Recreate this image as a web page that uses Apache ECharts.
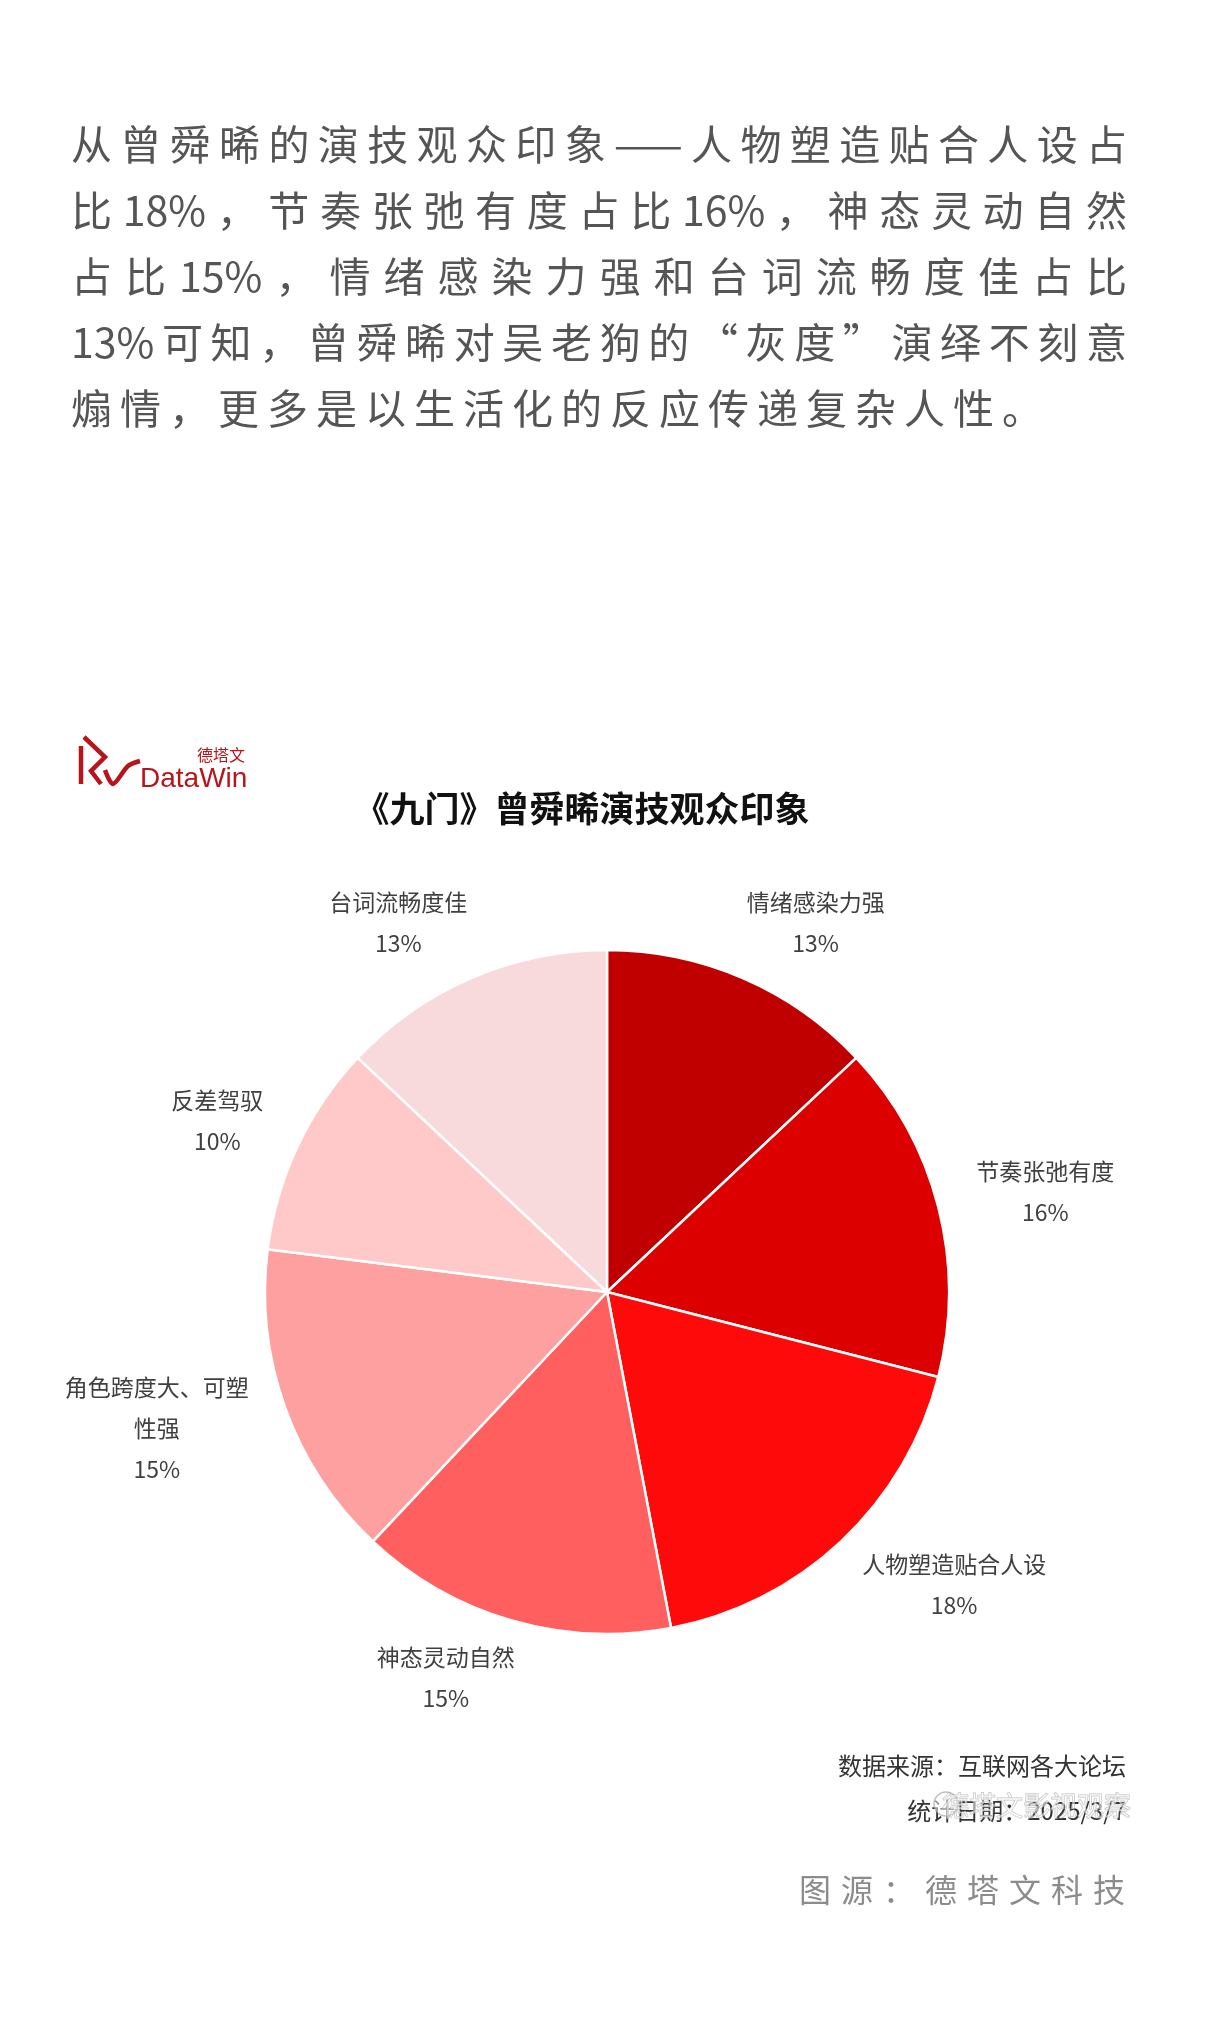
<!DOCTYPE html>
<html>
<head>
<meta charset="utf-8">
<script src="https://cdn.jsdelivr.net/npm/echarts@6/dist/echarts.min.js"></script>
<style>
html, body { margin: 0; padding: 0; background: #fff; }
#page { position: relative; width: 1206px; height: 2025px; overflow: hidden; }
#main { position: absolute; left: 0; top: 0; width: 1206px; height: 2025px; }
#intro { position: absolute; left: 71px; top: 109px; width: 1056px;
	font-family: "Noto Sans CJK SC"; font-size: 41px; line-height: 66px; color: #555; }
#intro div { white-space: nowrap; text-align: justify; text-align-last: justify; }
#intro div.last { text-align-last: left; letter-spacing: 8px; }
#credit { position: absolute; right: 71px; top: 1864px; font-family: "Noto Sans CJK SC";
	font-size: 32px; line-height: 48px; color: #8c8c8c; letter-spacing: 10px; }
</style>
</head>
<body>
<div id="page">
	<div id="main"></div>
	<div id="intro">
		<div>从曾舜晞的演技观众印象——人物塑造贴合人设占</div>
		<div>比18%，节奏张弛有度占比16%，神态灵动自然</div>
		<div>占比15%，情绪感染力强和台词流畅度佳占比</div>
		<div>13%可知，曾舜晞对吴老狗的“灰度”演绎不刻意</div>
		<div class="last">煽情，更多是以生活化的反应传递复杂人性。</div>
	</div>
	<div id="credit">图源：德塔文科技</div>
</div>
<script>
// 数据
var categories = ['情绪感染力强', '节奏张弛有度', '人物塑造贴合人设', '神态灵动自然', '角色跨度大、可塑性强', '反差驾驭', '台词流畅度佳'];
var shares = [13, 16, 18, 15, 15, 10, 13];
var sliceColors = ['#C00000', '#DC0000', '#FF0A0A', '#FF5F5F', '#FFA0A0', '#FFC9C9', '#F8DADD'];

var cjk = '"Noto Sans CJK SC", sans-serif';
var pieCenter = [607, 1292];
var pieRadius = 342;

var pieData = categories.map(function(name, i) {
	return { name: name, value: shares[i] };
});

// 名称超过8个字换行, 每行居中
function labelText(p) {
	var n = p.name;
	var lines = n.length > 8 ? [n.slice(0, 8), n.slice(8)] : [n];
	lines.push(p.value + '%');
	return lines.map(function(s) { return '{a|' + s + '}'; }).join('\n');
}

var myChart = echarts.init(document.getElementById('main'));
var option = {
	animation: false,
	backgroundColor: 'transparent',
	color: sliceColors,
	graphic: [
		// logo
		{ type: 'polyline', shape: { points: [[81, 746], [81, 784]] },
			style: { stroke: '#B8141C', lineWidth: 4.5, fill: null } },
		{ type: 'polyline', shape: { points: [[84, 737], [105, 757], [91, 771], [101, 784]] },
			style: { stroke: '#B8141C', lineWidth: 4.5, fill: null } },
		{ type: 'polyline', shape: { points: [[105, 770], [113, 784], [128, 766], [140, 761]], smooth: 0.3 },
			style: { stroke: '#B8141C', lineWidth: 4.5, fill: null } },
		{ type: 'text', x: 221, y: 755,
			style: { text: '德塔文', fontSize: 16, fontFamily: cjk, fill: '#B8141C', align: 'center', verticalAlign: 'middle' } },
		{ type: 'text', x: 140, y: 779,
			style: { text: 'DataWin', fontSize: 28, fontFamily: 'Liberation Sans', fill: '#B8141C', align: 'left', verticalAlign: 'middle' } },
		// 标题
		{ type: 'text', x: 582, y: 809,
			style: { text: '《九门》曾舜晞演技观众印象', fontSize: 35, fontWeight: 'bold', fontFamily: cjk,
				fill: '#111', align: 'center', verticalAlign: 'middle' } },
		// 脚注
		{ type: 'text', x: 1126, y: 1766,
			style: { text: '数据来源：互联网各大论坛', fontSize: 24, fontFamily: cjk, fill: '#333', align: 'right', verticalAlign: 'middle' } },
		{ type: 'text', x: 1126, y: 1811,
			style: { text: '统计日期：2025/3/7', fontSize: 24, fontFamily: cjk, fill: '#333', align: 'right', verticalAlign: 'middle' } },
		{ type: 'circle', shape: { cx: 946, cy: 1804, r: 12 },
			style: { fill: 'rgba(255,255,255,0.5)', stroke: 'rgba(150,150,150,0.6)', lineWidth: 1.5 } },
		{ type: 'text', x: 1131, y: 1806,
			style: { text: '德塔文影视观察', fontSize: 27, fontFamily: cjk, fill: 'rgba(255,255,255,0.55)',
				stroke: 'rgba(150,150,150,0.6)', lineWidth: 1, align: 'right', verticalAlign: 'middle' } }
	],
	series: [
		{
			type: 'pie',
			center: pieCenter,
			radius: pieRadius,
			startAngle: 90,
			clockwise: true,
			silent: true,
			avoidLabelOverlap: false,
			data: pieData,
			itemStyle: { borderColor: '#fff', borderWidth: 2.5 },
			label: {
				show: true,
				position: 'outside',
				alignTo: 'none',
				distanceToLabelLine: 0,
				formatter: labelText,
				rich: {
					a: { fontFamily: cjk, fontSize: 23, lineHeight: 41, color: '#404040', align: 'center' }
				}
			},
			labelLine: { show: false, length: 60, length2: -20 }
		}
	]
};
myChart.setOption(option);
</script>
</body>
</html>
